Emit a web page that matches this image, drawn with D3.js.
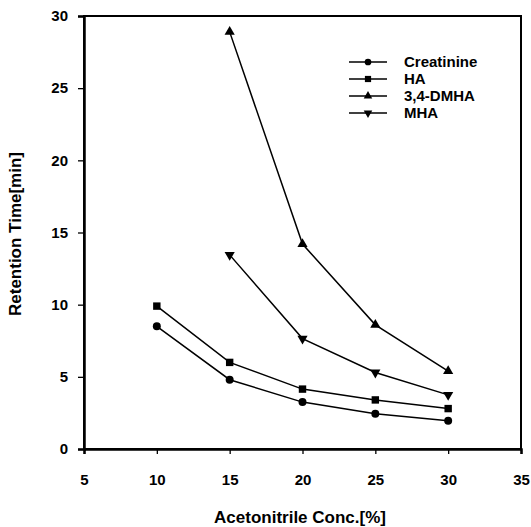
<!DOCTYPE html>
<html>
<head>
<meta charset="utf-8">
<script src="https://cdn.jsdelivr.net/npm/d3@7"></script>
<style>
  body { margin: 0; background: #fff; }
  text { font-family: "Liberation Sans", Arial, sans-serif; font-weight: bold; fill: #000; }
</style>
</head>
<body>
<div class="canvas"></div>
<script>

// DATA

var conc = [10, 15, 20, 25, 30];
var creatinine = [8.5, 4.8, 3.25, 2.45, 1.95];
var ha = [9.9, 6.0, 4.15, 3.4, 2.8];
var dmha = [null, 28.9, 14.2, 8.6, 5.4];
var mha = [null, 13.45, 7.65, 5.3, 3.75];

var xTicks = [5, 10, 15, 20, 25, 30, 35];
var yTicks = [0, 5, 10, 15, 20, 25, 30];

var series = [
  {name: "Creatinine", values: creatinine, symbol: d3.symbolCircle, size: 50},
  {name: "HA", values: ha, symbol: d3.symbolSquare, size: 55},
  {name: "3,4-DMHA", values: dmha, symbol: d3.symbolTriangle, size: 45},
  {name: "MHA", values: mha, symbol: d3.symbolTriangle, size: 45, flip: true}
];

var svg = d3.select(".canvas")
            .append("svg")
            .attr("width", 531)
            .attr("height", 527);

var x = d3.scaleLinear().domain([5, 35]).range([84, 521]);
var y = d3.scaleLinear().domain([0, 30]).range([449, 16]);


// FRAME

svg.append("rect")
   .attr("x", 84)
   .attr("y", 16)
   .attr("width", 521 - 84)
   .attr("height", 449 - 16)
   .attr("fill", "none")
   .attr("stroke", "#000")
   .attr("stroke-width", 2);


// AXES

var xAxis = svg.append("g")
   .attr("transform", "translate(0,449)")
   .call(d3.axisBottom(x).tickValues(xTicks).tickSize(5).tickPadding(20));

var yAxis = svg.append("g")
   .attr("transform", "translate(84,0)")
   .call(d3.axisLeft(y).tickValues(yTicks).tickSize(6).tickPadding(10));

[xAxis, yAxis].forEach(function(a){
  a.select(".domain").attr("stroke-width", 2.5);
  a.selectAll(".tick line").attr("stroke-width", 1.3);
  a.selectAll(".tick text")
   .style("font-size", "15px")
   .style("font-family", "'Liberation Sans', Arial, sans-serif")
   .style("font-weight", "bold");
});

svg.append("text")
   .attr("x", 300)
   .attr("y", 523)
   .attr("text-anchor", "middle")
   .style("font-size", "17px")
   .text("Acetonitrile Conc.[%]");

svg.append("text")
   .attr("transform", "translate(21,234) rotate(-90)")
   .attr("text-anchor", "middle")
   .style("font-size", "17px")
   .text("Retention Time[min]");


// LINES + MARKERS

var line = d3.line()
   .defined(function(d){ return d[1] != null; })
   .x(function(d){ return x(d[0]); })
   .y(function(d){ return y(d[1]); });

series.forEach(function(s){
  var pts = conc.map(function(c, i){ return [c, s.values[i]]; });

  svg.append("path")
     .datum(pts)
     .attr("d", line)
     .attr("fill", "none")
     .attr("stroke", "#000")
     .attr("stroke-width", 1.5);

  svg.selectAll(null)
     .data(pts.filter(function(d){ return d[1] != null; }))
     .enter()
     .append("path")
     .attr("d", d3.symbol().type(s.symbol).size(s.size))
     .attr("transform", function(d){
        return "translate(" + x(d[0]) + "," + y(d[1]) + ")" + (s.flip ? " rotate(180)" : "");
     })
     .attr("fill", "#000");
});


// LEGEND

series.forEach(function(s, i){
  var ly = 62 + i * 17;

  svg.append("line")
     .attr("x1", 349)
     .attr("x2", 387)
     .attr("y1", ly)
     .attr("y2", ly)
     .attr("stroke", "#000")
     .attr("stroke-width", 1.5);

  svg.append("path")
     .attr("d", d3.symbol().type(s.symbol).size(s.size * 0.7))
     .attr("transform", "translate(368," + ly + ")" + (s.flip ? " rotate(180)" : ""))
     .attr("fill", "#000");

  svg.append("text")
     .attr("x", 404)
     .attr("y", ly + 5)
     .style("font-size", "15px")
     .text(s.name);
});

</script>
</body>
</html>
